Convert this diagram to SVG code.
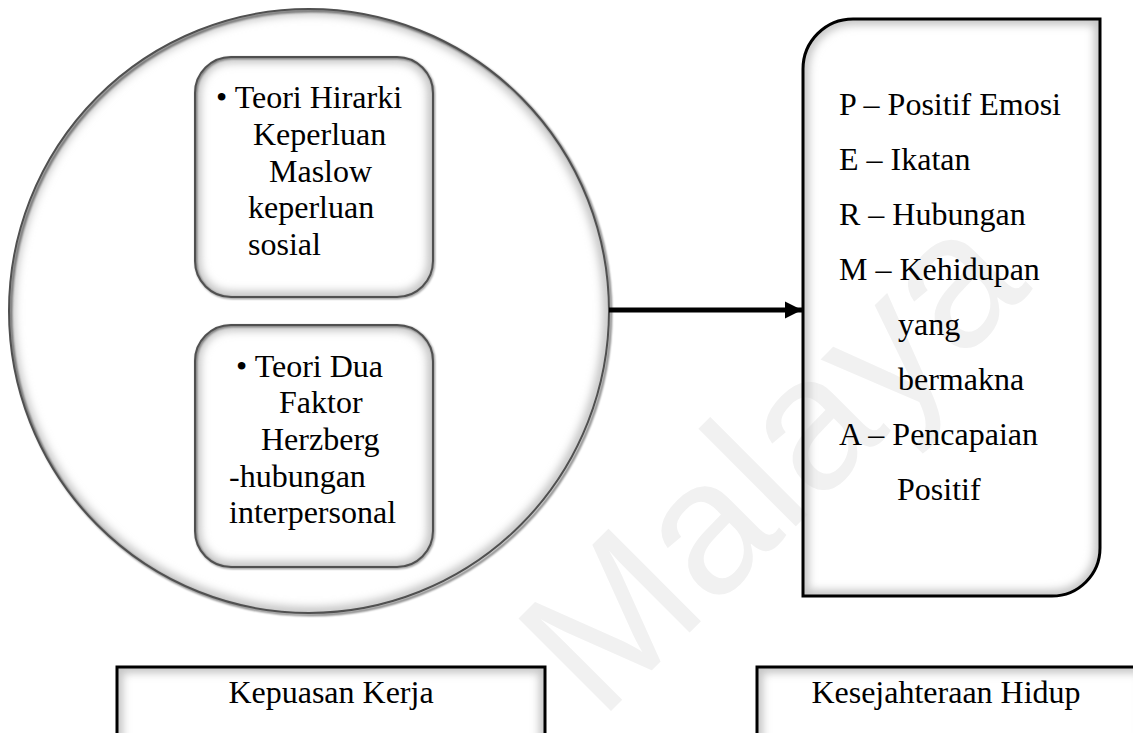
<svg xmlns="http://www.w3.org/2000/svg" width="1133" height="733" viewBox="0 0 1133 733">
  <style>
    .t { font-family: "Liberation Serif", "Times New Roman", serif; font-size: 32px; fill: #000; }
    .mid { text-anchor: middle; }
    .wm { font-family: "Liberation Sans", Arial, sans-serif; font-size: 190px; fill: #f1f1f1; }
    .bevel { fill: none; stroke: #c4c4c4; stroke-width: 12; filter: url(#soft); }
    .soft-edge { fill: none; stroke: #505050; stroke-width: 2; }
    .hard-edge { fill: none; stroke: #000; stroke-width: 3; }
  </style>
  <defs>
    <filter id="soft" x="-10%" y="-10%" width="120%" height="120%">
      <feGaussianBlur stdDeviation="4"/>
    </filter>
    <filter id="shade" x="-10%" y="-10%" width="120%" height="120%">
      <feGaussianBlur stdDeviation="1.2"/>
    </filter>
    <marker id="arrow" viewBox="0 0 10 10" refX="10" refY="5" markerWidth="3.4" markerHeight="3.6" markerUnits="strokeWidth" orient="auto">
      <path d="M0,0 L10,5 L0,10 Z" fill="#000"/>
    </marker>
    <clipPath id="clipCircle"><ellipse cx="309" cy="311" rx="300" ry="302"/></clipPath>
    <clipPath id="clipBox1"><rect x="195" y="57" width="238" height="240" rx="36"/></clipPath>
    <clipPath id="clipBox2"><rect x="195" y="325" width="238" height="242" rx="36"/></clipPath>
    <clipPath id="clipPerma"><path d="M803,69 A50,50 0 0 1 853,19 H1100 V548 A48,48 0 0 1 1052,596 H803 Z"/></clipPath>
    <clipPath id="clipKk"><rect x="117" y="667" width="428" height="90"/></clipPath>
    <clipPath id="clipKh"><rect x="757" y="667" width="390" height="90"/></clipPath>
  </defs>

  <rect width="1133" height="733" fill="#fff"/>

  <!-- faint diagonal watermark -->
  <text class="wm" x="600" y="722" transform="rotate(-45 600 722)">Malaya</text>

  <!-- Kepuasan Kerja theories: outer circle -->
  <g id="theories">
    <g clip-path="url(#clipCircle)">
      <ellipse cx="309" cy="311" rx="300" ry="302" class="bevel"/>
    </g>
    <ellipse cx="311" cy="313" rx="300" ry="302" fill="none" stroke="#000" stroke-width="2" filter="url(#shade)" opacity="0.6"/>
    <ellipse cx="309" cy="311" rx="300" ry="302" class="soft-edge"/>
  </g>

  <!-- Maslow box -->
  <g id="maslow">
    <g clip-path="url(#clipBox1)">
      <rect x="195" y="57" width="238" height="240" rx="36" class="bevel"/>
    </g>
    <rect x="196" y="58" width="238" height="240" rx="36" fill="none" stroke="#000" stroke-width="2" filter="url(#shade)" opacity="0.5"/>
    <rect x="195" y="57" width="238" height="240" rx="36" class="soft-edge"/>
    <text class="t" x="216" y="108">• Teori Hirarki</text>
    <text class="t" x="253" y="145">Keperluan</text>
    <text class="t" x="269" y="182">Maslow</text>
    <text class="t" x="248" y="218">keperluan</text>
    <text class="t" x="248" y="255">sosial</text>
  </g>

  <!-- Herzberg box -->
  <g id="herzberg">
    <g clip-path="url(#clipBox2)">
      <rect x="195" y="325" width="238" height="242" rx="36" class="bevel"/>
    </g>
    <rect x="196" y="326" width="238" height="242" rx="36" fill="none" stroke="#000" stroke-width="2" filter="url(#shade)" opacity="0.5"/>
    <rect x="195" y="325" width="238" height="242" rx="36" class="soft-edge"/>
    <text class="t" x="236" y="377">• Teori Dua</text>
    <text class="t" x="279" y="413">Faktor</text>
    <text class="t" x="261" y="450">Herzberg</text>
    <text class="t" x="229" y="487">-hubungan</text>
    <text class="t" x="229" y="523">interpersonal</text>
  </g>

  <!-- PERMA box -->
  <g id="perma">
    <g clip-path="url(#clipPerma)">
      <path d="M803,69 A50,50 0 0 1 853,19 H1100 V548 A48,48 0 0 1 1052,596 H803 Z" class="bevel"/>
    </g>
    <path d="M803,69 A50,50 0 0 1 853,19 H1100 V548 A48,48 0 0 1 1052,596 H803 Z" class="hard-edge"/>
    <text class="t" x="839" y="115">P – Positif Emosi</text>
    <text class="t" x="839" y="170">E – Ikatan</text>
    <text class="t" x="839" y="225">R – Hubungan</text>
    <text class="t" x="839" y="280">M – Kehidupan</text>
    <text class="t" x="898" y="335">yang</text>
    <text class="t" x="898" y="390">bermakna</text>
    <text class="t" x="839" y="445">A – Pencapaian</text>
    <text class="t" x="897" y="500">Positif</text>
  </g>

  <!-- labels under each side -->
  <g id="label-kepuasan">
    <g clip-path="url(#clipKk)">
      <rect x="117" y="667" width="428" height="90" class="bevel"/>
    </g>
    <rect x="117" y="667" width="428" height="90" class="hard-edge"/>
    <text class="t mid" x="331" y="703">Kepuasan Kerja</text>
  </g>

  <g id="label-kesejahteraan">
    <g clip-path="url(#clipKh)">
      <rect x="757" y="667" width="390" height="90" class="bevel"/>
    </g>
    <rect x="757" y="667" width="390" height="90" class="hard-edge"/>
    <text class="t mid" x="946" y="703">Kesejahteraan Hidup</text>
  </g>

  <!-- connector -->
  <g id="connectors">
    <line x1="609" y1="310" x2="802" y2="310" stroke="#000" stroke-width="5" marker-end="url(#arrow)"/>
  </g>
</svg>
